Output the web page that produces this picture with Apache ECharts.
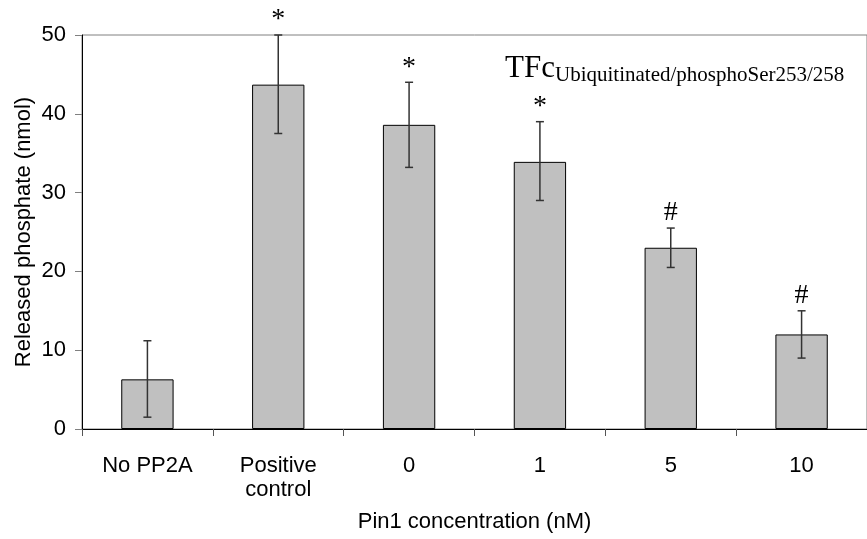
<!DOCTYPE html>
<html>
<head>
<meta charset="utf-8">
<script src="https://cdn.jsdelivr.net/npm/echarts@6/dist/echarts.min.js"></script>
<style>html,body{margin:0;padding:0;background:#fff;}#c{width:867px;height:539px;}</style>
</head>
<body>
<div id="c"></div>
<script>
const categories = ['No PP2A', 'Positive\ncontrol', '0', '1', '5', '10'];
const means = [6.3, 43.7, 38.6, 33.9, 23.0, 12.0];
const errUpper = [11.2, 50.0, 44.0, 39.0, 25.5, 15.0];
const errLower = [1.5, 37.5, 33.2, 29.0, 20.5, 9.0];
const markers = ['', '*', '*', '*', '#', '#'];
const yTicks = [0, 10, 20, 30, 40, 50];
const yTitle = 'Released phosphate (nmol)';
const xTitle = 'Pin1 concentration (nM)';
const labelMain = 'TFc';
const labelSub = 'Ubiquitinated/phosphoSer253/258';

const SANS = '"Liberation Sans", Arial, sans-serif';
const SERIF = '"Liberation Serif", "Times New Roman", serif';

const chart = echarts.init(document.getElementById('c'));
const errData = categories.map((c, i) => [i, errUpper[i], errLower[i]]);

chart.setOption({
  animation: false,
  backgroundColor: '#fff',
  grid: { left: 82, top: 35, width: 793, height: 394, show: true, borderColor: '#808080', borderWidth: 1, backgroundColor: 'transparent' },
  xAxis: {
    type: 'category',
    data: categories,
    axisLine: { lineStyle: { color: '#000', width: 1 } },
    axisTick: { show: true, length: 7, lineStyle: { color: '#555' } },
    axisLabel: { color: '#000', fontFamily: SANS, fontSize: 22, margin: 25, lineHeight: 24, interval: 0 },
    name: xTitle,
    nameLocation: 'middle',
    nameGap: 82,
    nameMoveOverlap: false,
    nameTextStyle: { color: '#000', fontFamily: SANS, fontSize: 22 }
  },
  yAxis: {
    type: 'value',
    min: yTicks[0],
    max: yTicks[yTicks.length - 1],
    interval: yTicks[1] - yTicks[0],
    splitLine: { show: false },
    axisLine: { show: true, lineStyle: { color: '#000', width: 1 } },
    axisTick: { show: true, length: 7, lineStyle: { color: '#808080' } },
    axisLabel: { color: '#000', fontFamily: SANS, fontSize: 22, margin: 16 },
    name: yTitle,
    nameLocation: 'middle',
    nameRotate: 90,
    nameGap: 47,
    nameMoveOverlap: false,
    nameTextStyle: { color: '#000', fontFamily: SANS, fontSize: 22 }
  },
  series: [
    {
      type: 'bar',
      data: means,
      barWidth: '40%',
      itemStyle: { color: '#c0c0c0', borderColor: '#000', borderWidth: 1 }
    },
    {
      type: 'custom',
      data: errData,
      z: 10,
      renderItem: function (params, api) {
        const i = api.value(0);
        const hi = api.coord([i, api.value(1)]);
        const lo = api.coord([i, api.value(2)]);
        const x = hi[0];
        const cap = 4;
        const st = { stroke: '#333', lineWidth: 1.5 };
        return {
          type: 'group',
          children: [
            { type: 'line', shape: { x1: x, y1: hi[1], x2: x, y2: lo[1] }, style: st },
            { type: 'line', shape: { x1: x - cap, y1: hi[1], x2: x + cap, y2: hi[1] }, style: st },
            { type: 'line', shape: { x1: x - cap, y1: lo[1], x2: x + cap, y2: lo[1] }, style: st },
            { type: 'text', style: { text: markers[i], x: x, y: hi[1] - 1, align: 'center', verticalAlign: 'bottom', font: '28px ' + SERIF, fill: '#000' } }
          ]
        };
      }
    }
  ],
  graphic: [
    { type: 'text', left: 505, top: 53, style: { text: labelMain, font: '31px ' + SERIF, fill: '#000' } },
    { type: 'text', left: 555, top: 65, style: { text: labelSub, font: '21px ' + SERIF, fill: '#000' } }
  ]
});
</script>
</body>
</html>
